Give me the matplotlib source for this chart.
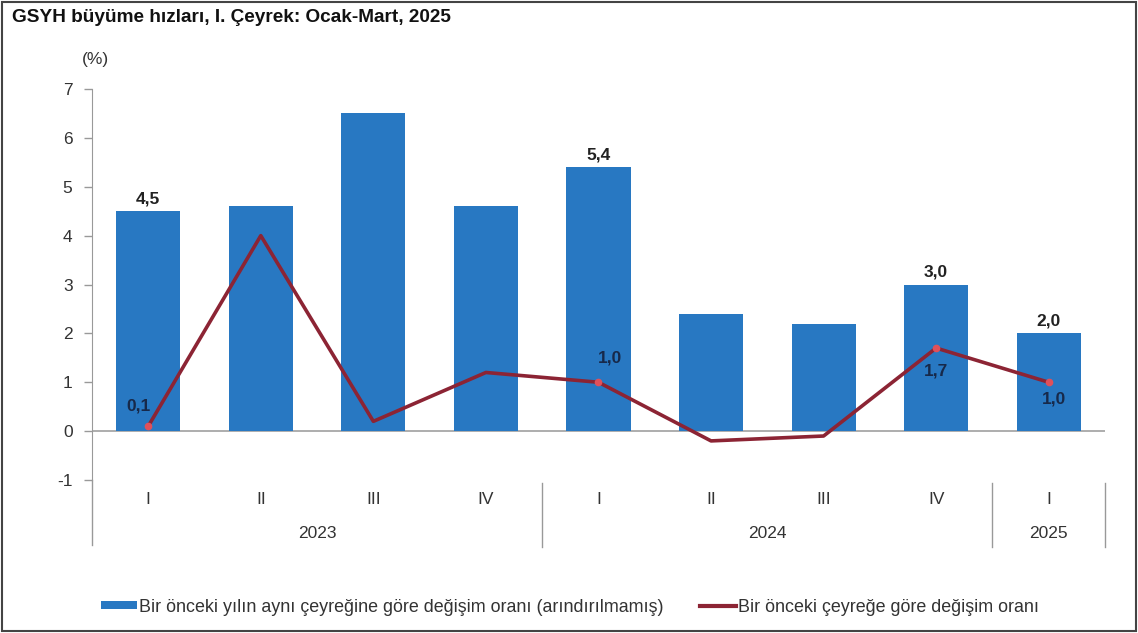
import numpy as np
import matplotlib.pyplot as plt
from matplotlib.patches import Rectangle, Patch
from matplotlib.lines import Line2D
import matplotlib.transforms as mtransforms

plt.rcParams['font.family'] = ['Liberation Sans', 'DejaVu Sans']

quarters = ["I", "II", "III", "IV", "I", "II", "III", "IV", "I"]
years = ["2023", "2024", "2025"]
year_spans = [(0, 3), (4, 7), (8, 8)]

# annual change (not adjusted) and quarter-on-quarter change
yoy = [4.5, 4.6, 6.5, 4.6, 5.4, 2.4, 2.2, 3.0, 2.0]
qoq = [0.1, 4.0, 0.2, 1.2, 1.0, -0.2, -0.1, 1.7, 1.0]

yoy_labelled = [0, 4, 7, 8]
qoq_labelled = [0, 4, 7, 8]

bar_color = "#2878c2"
line_color = "#8c2434"
text_color = "#333333"
fs = 12.5

fig = plt.figure(figsize=(11.38, 6.33), dpi=100)
ax = fig.add_axes([0.0808, 0.2417, 0.8902, 0.6177])

x = np.arange(len(yoy))
ax.bar(x, yoy, width=0.57, color=bar_color, zorder=2)
ax.plot(x, qoq, color=line_color, lw=2.6, zorder=3)
ax.plot(x[qoq_labelled], np.array(qoq)[qoq_labelled], 'o', ms=4.5,
        color="#e0505a", zorder=4)

ax.set_xlim(-0.5, 8.5)
ax.set_ylim(-1, 7)
ax.set_yticks(range(-1, 8))
ax.set_yticklabels([str(v) for v in range(-1, 8)], fontsize=fs, color=text_color)
ax.tick_params(axis='y', length=6, pad=8, color="#999999", width=1)
ax.set_xticks([])
for side in ["top", "right", "bottom"]:
    ax.spines[side].set_visible(False)
ax.spines["left"].set_color("#999999")
ax.spines["left"].set_bounds(-1, 7)
ax.axhline(0, color="#a0a0a0", lw=1.2, zorder=1)

# extend the left axis line through the category area
trans = mtransforms.blended_transform_factory(ax.transData, ax.transAxes)
ax.add_line(Line2D([-0.5, -0.5], [0, -0.166], transform=trans,
                   color="#999999", lw=1, clip_on=False))
for sep in [3.5, 7.5, 8.5]:
    ax.add_line(Line2D([sep, sep], [-0.008, -0.172], transform=trans,
                       color="#999999", lw=1, clip_on=False))

for i, q in enumerate(quarters):
    ax.text(i, -0.049, q, transform=trans, ha="center", va="center",
            fontsize=fs, color=text_color)
for yr, (a, b) in zip(years, year_spans):
    ax.text((a + b) / 2, -0.136, yr, transform=trans, ha="center", va="center",
            fontsize=fs, color=text_color)

# value labels
for i in yoy_labelled:
    ax.text(i, yoy[i] + 0.1, f"{yoy[i]:.1f}".replace(".", ","), ha="center",
            va="bottom", fontsize=fs, fontweight="bold", color="#222222")

qoq_offsets = {0: (-0.09, 0.41), 4: (0.1, 0.49), 7: (0.0, -0.47), 8: (0.05, -0.35)}
for i in qoq_labelled:
    dx, dy = qoq_offsets[i]
    ax.text(i + dx, qoq[i] + dy, f"{qoq[i]:.1f}".replace(".", ","), ha="center",
            va="center", fontsize=fs, fontweight="bold", color="#17294a")

ax.text(-0.47, 7.6, "(%)", ha="center", va="center", fontsize=fs, color=text_color)

fig.text(0.0105, 0.972, "GSYH büyüme hızları, I. Çeyrek: Ocak-Mart, 2025",
         ha="left", va="center", fontsize=13.7, fontweight="bold", color="#111111")

handles = [Patch(facecolor=bar_color, edgecolor="none"),
           Line2D([], [], color=line_color, lw=3)]
labels = ["Bir önceki yılın aynı çeyreğine göre değişim oranı (arındırılmamış)",
          "Bir önceki çeyreğe göre değişim oranı"]
fig.legend(handles, labels, loc="center", bbox_to_anchor=(0.501, 0.041), ncol=2,
           frameon=False, fontsize=12.9, handlelength=2.0, handleheight=0.35,
           handletextpad=0.12, columnspacing=2.0, labelcolor=text_color)

fig.patches.append(Rectangle((0.002, 0.003), 0.996, 0.994, transform=fig.transFigure,
                             fill=False, edgecolor="#444444", lw=1.5))

fig.savefig("out.png", dpi=100)
